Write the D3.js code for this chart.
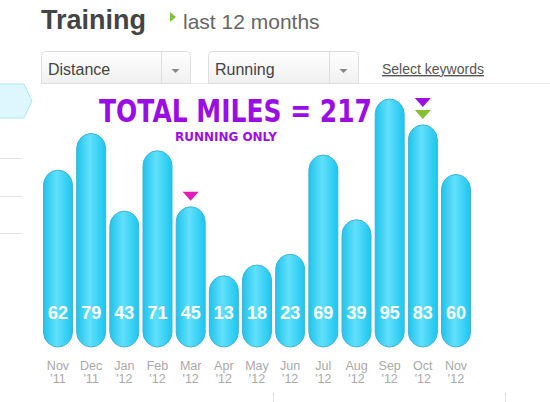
<!DOCTYPE html>
<html><head><meta charset="utf-8">
<script src="https://cdn.jsdelivr.net/npm/d3@7/dist/d3.min.js"></script>
<style>html,body{margin:0;padding:0;background:#fff;}svg{display:block;}</style>
</head><body>
<script>
const months = ["Nov '11","Dec '11","Jan '12","Feb '12","Mar '12","Apr '12","May '12","Jun '12","Jul '12","Aug '12","Sep '12","Oct '12","Nov '12"];
const miles = [62,79,43,71,45,13,18,23,69,39,95,83,60];
const markers = [
  {month:"Mar '12", color:"#e21cb4", level:0},
  {month:"Oct '12", color:"#9a10e2", level:1},
  {month:"Oct '12", color:"#86bf32", level:0}
];
const titleText = "TOTAL MILES = 217";
const subtitleText = "RUNNING ONLY";
const dropdowns = ["Distance","Running"];

const W = 550, H = 402;
const svg = d3.select("body").append("svg").attr("width", W).attr("height", H);
const defs = svg.append("defs");
const g1 = defs.append("linearGradient").attr("id","barGrad").attr("x1","0").attr("x2","1").attr("y1","0").attr("y2","0");
g1.append("stop").attr("offset","0%").attr("stop-color","#1fc3ec");
g1.append("stop").attr("offset","45%").attr("stop-color","#62e0fb");
g1.append("stop").attr("offset","100%").attr("stop-color","#1cc6ef");
const g2 = defs.append("linearGradient").attr("id","boxGrad").attr("x1","0").attr("x2","0").attr("y1","0").attr("y2","1");
g2.append("stop").attr("offset","0%").attr("stop-color","#ffffff");
g2.append("stop").attr("offset","100%").attr("stop-color","#f0f0f0");

// Header
svg.append("text").attr("x",41).attr("y",29).attr("font-family","Liberation Sans, Arial, sans-serif")
  .attr("font-weight","bold").attr("font-size",27).attr("fill","#444").text("Training");
svg.append("path").attr("d","M170,12 L176,17 L170,22 Z").attr("fill","#7dc242");
svg.append("text").attr("x",183).attr("y",29).attr("font-family","Liberation Sans, Arial, sans-serif")
  .attr("font-size",21).attr("fill","#666").text("last 12 months");

// Dropdowns
svg.append("line").attr("x1",41).attr("x2",550).attr("y1",83.5).attr("y2",83.5).attr("stroke","#e8e8e8");
const boxes = [{x:41,w:149,div:161},{x:208,w:150,div:329}];
boxes.forEach((b,i)=>{
  const r=4, x=b.x+0.5, y=51.5, w=b.w, h=32;
  svg.append("path").attr("d",`M${x},${y+h} L${x},${y+r} Q${x},${y} ${x+r},${y} L${x+w-r},${y} Q${x+w},${y} ${x+w},${y+r} L${x+w},${y+h} Z`)
    .attr("fill","url(#boxGrad)").attr("stroke","#dedede");
  svg.append("line").attr("x1",b.div+0.5).attr("x2",b.div+0.5).attr("y1",52).attr("y2",83).attr("stroke","#dedede");
  const cx = (b.div + b.x + b.w)/2;
  svg.append("path").attr("d",`M${cx-4},69 L${cx+4},69 L${cx},73 Z`).attr("fill","#888");
  svg.append("text").attr("x",b.x+7).attr("y",75).attr("font-family","Liberation Sans, Arial, sans-serif")
    .attr("font-size",16).attr("fill","#444").text(dropdowns[i]);
});
svg.append("text").attr("x",382).attr("y",74).attr("font-family","Liberation Sans, Arial, sans-serif")
  .attr("font-size",14).attr("fill","#555").attr("text-decoration","underline").text("Select keywords");

// Left side tab and lines
svg.append("path").attr("d","M-2,84 L24,84 L32,101 L24,118 L-2,118 Z").attr("fill","#def6fd").attr("stroke","#aee6f5");
[158,196,233].forEach(y=>svg.append("line").attr("x1",0).attr("x2",22).attr("y1",y+0.5).attr("y2",y+0.5).attr("stroke","#e3e3e3"));
// bottom lines
[273,505].forEach(x=>svg.append("line").attr("x1",x+0.5).attr("x2",x+0.5).attr("y1",393).attr("y2",402).attr("stroke","#e0e0e0"));

// Scales
const x = d3.scaleBand().domain(months).range([43,471]).paddingInner(0.096).paddingOuter(0);
const y = d3.scaleLinear().domain([-20,95]).range([347,99]);

// Bars
svg.append("g").selectAll("rect").data(miles).join("rect")
  .attr("x",(d,i)=>x(months[i])+0.5).attr("width",x.bandwidth()-1)
  .attr("y",d=>y(d)).attr("height",d=>y.range()[0]-y(d))
  .attr("rx",x.bandwidth()/2).attr("ry",x.bandwidth()/2)
  .attr("fill","url(#barGrad)").attr("stroke","#3fb4d6").attr("stroke-width",1);

// Value labels
svg.append("g").selectAll("text").data(miles).join("text")
  .attr("x",(d,i)=>x(months[i])+x.bandwidth()/2).attr("y",319)
  .attr("text-anchor","middle").attr("font-family","Liberation Sans, Arial, sans-serif")
  .attr("font-weight","bold").attr("font-size",18).attr("fill","#fff").text(d=>d);

// Month axis labels
const ax = svg.append("g");
months.forEach(m=>{
  const [mon, yr] = m.split(" ");
  const cx = x(m)+x.bandwidth()/2;
  ax.append("text").attr("x",cx).attr("y",370).attr("text-anchor","middle")
    .attr("font-family","Liberation Sans, Arial, sans-serif").attr("font-size",12.5).attr("fill","#a9a9a9").text(mon);
  ax.append("text").attr("x",cx).attr("y",383).attr("text-anchor","middle")
    .attr("font-family","Liberation Sans, Arial, sans-serif").attr("font-size",12.5).attr("fill","#a9a9a9").text(yr);
});

// Markers
markers.forEach(mk=>{
  const i = months.indexOf(mk.month);
  const cx = x(mk.month)+x.bandwidth()/2;
  const base = y(miles[i]) - 6 - mk.level*12;
  svg.append("path").attr("d",`M${cx-8},${base-9} L${cx+8},${base-9} L${cx},${base} Z`).attr("fill",mk.color);
});

// Title
svg.append("text").attr("x",99).attr("y",122).attr("font-family","DejaVu Sans, sans-serif")
  .attr("font-weight","bold").attr("font-size",32).attr("fill","#9a0ee6")
  .attr("textLength",273).attr("lengthAdjust","spacingAndGlyphs").text(titleText);
svg.append("text").attr("x",175).attr("y",141).attr("font-family","DejaVu Sans, sans-serif")
  .attr("font-weight","bold").attr("font-size",12).attr("fill","#9a0ee6")
  .attr("textLength",102).attr("lengthAdjust","spacingAndGlyphs").text(subtitleText);
</script>
</body></html>
